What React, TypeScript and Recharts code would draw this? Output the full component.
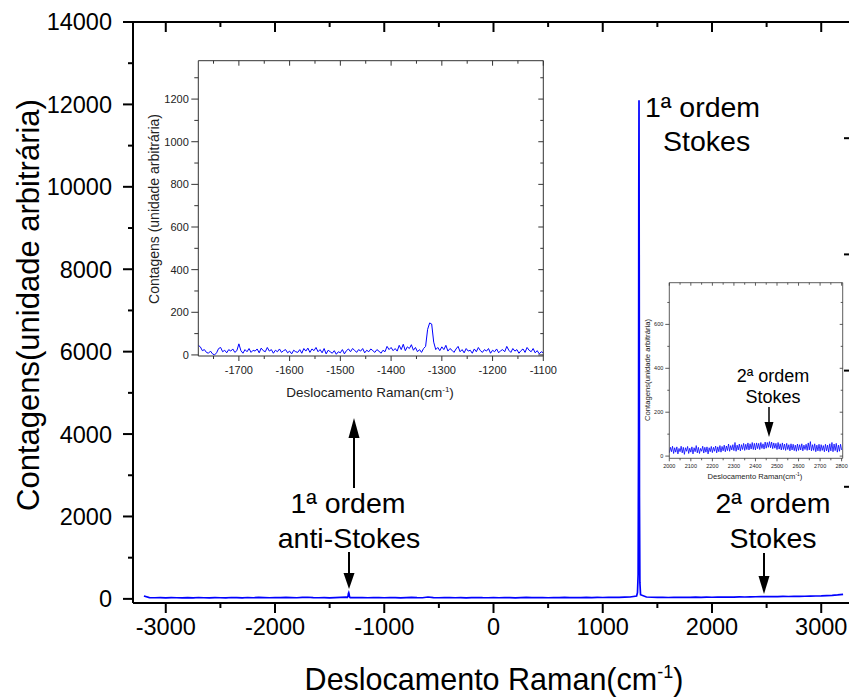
import React from 'react';
import { LineChart, Line, XAxis, YAxis } from 'recharts';

const FONT = '"Liberation Sans", Arial, Helvetica, sans-serif';
const BLUE = '#0000ff';

// ---------------- main spectrum ----------------
const mainGridStart = -3200;
const mainGridStep = 50;
// baseline counts every 50 cm-1 from -3200 to 3200
const mainBaseline = [
  70, 30, 28, 32, 25, 30, 27, 22, 30, 26, // -3200 .. -2750
  33, 28, 24, 31, 27, 25, 34, 29, 26, 33, // -2700 .. -2250
  28, 35, 30, 27, 32, 29, 36, 31, 28, 35, // -2200 .. -1750
  40, 30, 27, 32, 25, 30, 36, 42, 33, 29, // -1700 .. -1250
  31, 27, 34, 30, 28, 33, 29, 26, 31, 35, // -1200 .. -750
  30, 28, 45, 32, 27, 30, 33, 28, 31, 26, // -700 .. -250
  30, 34, 29, 27, 31, 28, 33, 30, 26, 32, // -200 .. 250
  35, 29, 31, 34, 28, 33, 30, 36, 31, 34, // 300 .. 750
  29, 35, 32, 38, 33, 36, 40, 37, 42, 45, // 800 .. 1250
  55, 60, 45, 40, 36, 38, 34, 37, 35, 39, // 1300 .. 1750
  36, 41, 38, 42, 40, 44, 41, 45, 43, 47, // 1800 .. 2250
  46, 50, 52, 55, 58, 54, 56, 60, 58, 62, // 2300 .. 2750
  60, 64, 66, 70, 72, 78, 85, 95, 110, // 2800 .. 3200
];
const antiStokesX = [-1340, -1332, -1328, -1325, -1322, -1318, -1312];
const antiStokesY = [35, 60, 130, 150, 120, 50, 30];
const stokesX = [1310, 1318, 1324, 1328, 1330, 1332, 1334, 1336, 1340, 1346];
const stokesY = [70, 150, 600, 4000, 9900, 12100, 8000, 2500, 400, 100];

const mainXTicks = [-3000, -2500, -2000, -1500, -1000, -500, 0, 500, 1000, 1500, 2000, 2500, 3000];
const mainYTicks = [0, 1000, 2000, 3000, 4000, 5000, 6000, 7000, 8000, 9000, 10000, 11000, 12000, 13000, 14000];
const mainRightTicks = [0, 1, 2, 3, 4, 5, 6, 7, 8, 9, 10];

// ---------------- left inset (anti-Stokes) ----------------
const leftInsetStart = -1780;
const leftInsetStep = 4;
const leftInsetY = [
  45, 38, 20, 25, 12, 8, 18, 5, 0, 10,
  30, 35, 15, 22, 10, 25, 18, 28, 12, 20,
  52, 20, 8, 25, 15, 30, 12, 22, 18, 28,
  10, 32, 20, 15, 35, 18, 25, 8, 22, 15,
  28, 12, 20, 25, 10, 18, 5, 22, 15, 12,
  25, 8, 30, 18, 32, 12, 28, 20, 35, 15,
  25, 10, 30, 5, 22, 15, 8, 20, 3, 15,
  10, 25, 5, 20, 28, 15, 30, 22, 12, 25,
  18, 30, 10, 22, 15, 28, 20, 12, 25, 18,
  8, 22, 15, 40, 25, 35, 20, 30, 18, 45,
  25, 50, 20, 38, 30, 48, 22, 35, 15, 25,
  12, 30, 40, 120, 150, 145, 60, 25, 35, 20,
  38, 25, 45, 18, 30, 22, 12, 28, 40, 15,
  25, 10, 30, 18, 22, 8, 28, 15, 35, 20,
  12, 25, 18, 30, 8, 22, 15, 28, 10, 20,
  25, 15, 40, 22, 12, 30, 18, 25, 8, 20,
  28, 12, 35, 22, 15, 30, 10, 20, 5, 15,
  10,
];
const leftInsetXTicks = [-1750, -1700, -1650, -1600, -1550, -1500, -1450, -1400, -1350, -1300, -1250, -1200, -1150, -1100];
const leftInsetYTicks = [0, 100, 200, 300, 400, 500, 600, 700, 800, 900, 1000, 1100, 1200, 1300];

// ---------------- right inset (2nd order Stokes) ----------------
const rightInsetStart = 2000;
const rightInsetStep = 5;
const rightInsetY = [
  15, 40, 20, 45, 12, 38, 18, 42, 10, 35,
  20, 45, 15, 40, 8, 38, 22, 44, 12, 36,
  18, 42, 10, 38, 20, 48, 15, 40, 12, 35,
  22, 45, 14, 40, 18, 42, 10, 38, 20, 44,
  16, 40, 22, 46, 15, 42, 20, 48, 18, 44,
  24, 50, 20, 46, 25, 55, 22, 48, 28, 52,
  25, 62, 22, 50, 28, 55, 24, 52, 30, 58,
  26, 54, 30, 60, 28, 56, 32, 62, 30, 58,
  28, 60, 34, 58, 30, 62, 35, 56, 32, 64,
  36, 62, 40, 66, 38, 64, 34, 60, 36, 58,
  30, 62, 32, 56, 28, 60, 30, 55, 26, 58,
  30, 52, 24, 56, 28, 54, 25, 50, 22, 55,
  26, 52, 28, 56, 24, 50, 30, 54, 26, 60,
  28, 66, 24, 52, 26, 56, 20, 50, 24, 54,
  22, 52, 26, 48, 20, 54, 24, 50, 18, 56,
  24, 62, 20, 55, 25, 58, 18, 50, 22, 54,
  28,
];
const rightInsetXTicks = [2000, 2050, 2100, 2150, 2200, 2250, 2300, 2350, 2400, 2450, 2500, 2550, 2600, 2650, 2700, 2750, 2800];
const rightInsetYTicks = [0, 100, 200, 300, 400, 500, 600, 700];

// ---------------- data tables ----------------
const gridTable = (start: number, step: number, ys: number[]) => ys.map((y, i) => ({ x: start + i * step, y }));
const mainData = [
  ...gridTable(mainGridStart, mainGridStep, mainBaseline).filter(
    (p) => !(p.x >= 1300 && p.x <= 1350) && !(p.x >= -1340 && p.x <= -1312)
  ),
  ...antiStokesX.map((x, i) => ({ x, y: antiStokesY[i] })),
  ...stokesX.map((x, i) => ({ x, y: stokesY[i] })),
].sort((a, b) => a.x - b.x);
const leftInsetData = gridTable(leftInsetStart, leftInsetStep, leftInsetY);
const rightInsetData = gridTable(rightInsetStart, rightInsetStep, rightInsetY);

// ---------------- tick renderer ----------------
type TickCfg = {
  dx: number;
  dy: number;
  major: number;
  minor: number;
  isMajor: (v: number) => boolean;
  label?: 'left' | 'bottom';
  fs?: number;
  gap?: number;
  sw: number;
  color: string;
  textColor?: string;
};
const makeTick = (c: TickCfg) => (props: any) => {
  const { x, y, payload } = props;
  const v = payload.value as number;
  const maj = c.isMajor(v);
  const len = maj ? c.major : c.minor;
  let label: React.ReactNode = null;
  const fs = c.fs || 10;
  const gap = c.gap || 0;
  if (maj && c.label === 'left') {
    label = (
      <text x={x - c.major - gap} y={y + fs * 0.36} textAnchor="end" fontSize={fs} fontFamily={FONT} fill={c.textColor || c.color}>
        {String(v)}
      </text>
    );
  } else if (maj && c.label === 'bottom') {
    label = (
      <text x={x} y={y + c.major + gap + fs * 0.72} textAnchor="middle" fontSize={fs} fontFamily={FONT} fill={c.textColor || c.color}>
        {String(v)}
      </text>
    );
  }
  return (
    <g>
      <line x1={x} y1={y} x2={x + c.dx * len} y2={y + c.dy * len} stroke={c.color} strokeWidth={c.sw} />
      {label}
    </g>
  );
};

const m1000 = (v: number) => v % 1000 === 0;
const m2000 = (v: number) => v % 2000 === 0;
const m2 = (v: number) => v % 2 === 0;
const m100 = (v: number) => v % 100 === 0;
const m200 = (v: number) => v % 200 === 0;

const mainBottomTick = makeTick({ dx: 0, dy: 1, major: 10, minor: 5, isMajor: m1000, label: 'bottom', fs: 23.5, gap: 5, sw: 2, color: '#000' });
const mainLeftTick = makeTick({ dx: -1, dy: 0, major: 10, minor: 5, isMajor: m2000, label: 'left', fs: 23.5, gap: 11, sw: 2, color: '#000' });
const mainTopTick = makeTick({ dx: 0, dy: 1, major: 10, minor: 5, isMajor: m1000, sw: 2, color: '#000' });
const mainRightTick = makeTick({ dx: -1, dy: 0, major: 10, minor: 5, isMajor: m2, sw: 2, color: '#000' });

const INSET_C = '#333';
const liBottomTick = makeTick({ dx: 0, dy: 1, major: 5, minor: 3, isMajor: m100, label: 'bottom', fs: 11, gap: 5, sw: 1, color: INSET_C, textColor: '#222' });
const liLeftTick = makeTick({ dx: -1, dy: 0, major: 7, minor: 4, isMajor: m200, label: 'left', fs: 11, gap: 2.5, sw: 1, color: INSET_C, textColor: '#222' });
const liTopTick = makeTick({ dx: 0, dy: 1, major: 5, minor: 3, isMajor: m100, sw: 1, color: INSET_C });
const liRightTick = makeTick({ dx: -1, dy: 0, major: 5, minor: 3, isMajor: m200, sw: 1, color: INSET_C });

const riBottomTick = makeTick({ dx: 0, dy: 1, major: 3, minor: 2, isMajor: m100, label: 'bottom', fs: 5.5, gap: 2.5, sw: 0.8, color: INSET_C, textColor: '#222' });
const riLeftTick = makeTick({ dx: -1, dy: 0, major: 4, minor: 2, isMajor: m200, label: 'left', fs: 5.5, gap: 2, sw: 0.8, color: INSET_C, textColor: '#222' });
const riTopTick = makeTick({ dx: 0, dy: 1, major: 3, minor: 2, isMajor: m100, sw: 0.8, color: INSET_C });
const riRightTick = makeTick({ dx: -1, dy: 0, major: 3, minor: 2, isMajor: m200, sw: 0.8, color: INSET_C });

const Arrow = ({ x, y1, y2, hw, hh, sw }: { x: number; y1: number; y2: number; hw: number; hh: number; sw: number }) => {
  const dir = y2 > y1 ? 1 : -1;
  const base = y2 - dir * hh;
  return (
    <g>
      <line x1={x} y1={y1} x2={x} y2={base} stroke="#000" strokeWidth={sw} />
      <polygon points={`${x - hw / 2},${base} ${x + hw / 2},${base} ${x},${y2}`} fill="#000" />
    </g>
  );
};

const axisCommon = { type: 'number' as const, allowDataOverflow: true, interval: 0 as const, tickSize: 0, tickMargin: 0, tickLine: false };

export default function App() {
  return (
    <div style={{ position: 'absolute', left: 0, top: 0, width: 849, height: 697, overflow: 'hidden', background: '#fff' }}>
      {/* main chart: plot box x 133..854, y 22..603 */}
      <div style={{ position: 'absolute', left: 0, top: 0 }}>
        <LineChart width={860} height={697} data={mainData} margin={{ top: 12, left: 73, right: 0, bottom: 54 }}>
          <XAxis xAxisId="b" {...axisCommon} dataKey="x" domain={[-3300, 3300]} ticks={mainXTicks} height={40} axisLine={{ stroke: '#000', strokeWidth: 2 }} tick={mainBottomTick} />
          <XAxis xAxisId="t" orientation="top" {...axisCommon} dataKey="x" domain={[-3300, 3300]} ticks={mainXTicks} height={10} axisLine={{ stroke: '#000', strokeWidth: 2 }} tick={mainTopTick} />
          <YAxis yAxisId="l" {...axisCommon} domain={[-100, 14000]} ticks={mainYTicks} width={60} axisLine={{ stroke: '#000', strokeWidth: 2 }} tick={mainLeftTick} />
          <YAxis yAxisId="r" orientation="right" {...axisCommon} domain={[0, 10]} ticks={mainRightTicks} width={6} axisLine={{ stroke: '#000', strokeWidth: 2 }} tick={mainRightTick} />
          <Line xAxisId="b" yAxisId="l" type="linear" dataKey="y" stroke={BLUE} strokeWidth={1.7} dot={false} isAnimationActive={false} />
        </LineChart>
      </div>

      {/* left inset: plot box x 198.3..543.3, y 60.7..356 */}
      <div style={{ position: 'absolute', left: 140, top: 40 }}>
        <LineChart width={420} height={370} data={leftInsetData} margin={{ top: 15.7, left: 28.3, right: 11.7, bottom: 24 }}>
          <XAxis xAxisId="b" {...axisCommon} dataKey="x" domain={[-1780, -1100]} ticks={leftInsetXTicks} height={30} axisLine={{ stroke: INSET_C, strokeWidth: 1 }} tick={liBottomTick} />
          <XAxis xAxisId="t" orientation="top" {...axisCommon} dataKey="x" domain={[-1780, -1100]} ticks={leftInsetXTicks} height={5} axisLine={{ stroke: INSET_C, strokeWidth: 1 }} tick={liTopTick} />
          <YAxis yAxisId="l" {...axisCommon} domain={[-5, 1380]} ticks={leftInsetYTicks} width={30} axisLine={{ stroke: INSET_C, strokeWidth: 1 }} tick={liLeftTick} />
          <YAxis yAxisId="r" orientation="right" {...axisCommon} domain={[-5, 1380]} ticks={leftInsetYTicks} width={5} axisLine={{ stroke: INSET_C, strokeWidth: 1 }} tick={liRightTick} />
          <Line xAxisId="b" yAxisId="l" type="linear" dataKey="y" stroke={BLUE} strokeWidth={1} dot={false} isAnimationActive={false} />
        </LineChart>
      </div>

      {/* right inset: plot box x 669.3..841.7, y 282.7..458.3 */}
      <div style={{ position: 'absolute', left: 641, top: 272 }}>
        <LineChart width={208} height={213} data={rightInsetData} margin={{ top: 8.7, left: 8.3, right: 5.3, bottom: 11.7 }}>
          <XAxis xAxisId="b" {...axisCommon} dataKey="x" domain={[2000, 2805]} ticks={rightInsetXTicks} height={15} axisLine={{ stroke: INSET_C, strokeWidth: 0.8 }} tick={riBottomTick} />
          <XAxis xAxisId="t" orientation="top" {...axisCommon} dataKey="x" domain={[2000, 2805]} ticks={rightInsetXTicks} height={2} axisLine={{ stroke: INSET_C, strokeWidth: 0.8 }} tick={riTopTick} />
          <YAxis yAxisId="l" {...axisCommon} domain={[-10, 790]} ticks={rightInsetYTicks} width={20} axisLine={{ stroke: INSET_C, strokeWidth: 0.8 }} tick={riLeftTick} />
          <YAxis yAxisId="r" orientation="right" {...axisCommon} domain={[-10, 790]} ticks={rightInsetYTicks} width={1} axisLine={{ stroke: INSET_C, strokeWidth: 0.8 }} tick={riRightTick} />
          <Line xAxisId="b" yAxisId="l" type="linear" dataKey="y" stroke={BLUE} strokeWidth={0.8} dot={false} isAnimationActive={false} />
        </LineChart>
      </div>

      {/* titles and annotations */}
      <svg width={849} height={697} style={{ position: 'absolute', left: 0, top: 0, pointerEvents: 'none' }} fontFamily={FONT}>
        <text x={494} y={690} textAnchor="middle" fontSize={30.5} fill="#000">
          <tspan>Deslocamento Raman(cm</tspan>
          <tspan dy={-12} fontSize={18}>-1</tspan>
          <tspan dy={12}>)</tspan>
        </text>
        <text x={28} y={305} textAnchor="middle" dominantBaseline="central" fontSize={31} fill="#000" transform="rotate(-90 28 305)">
          Contagens(unidade arbitrária)
        </text>

        <text x={370} y={397} textAnchor="middle" fontSize={13.5} fill="#222">
          <tspan>Deslocamento Raman(cm</tspan>
          <tspan dy={-5} fontSize={8}>-1</tspan>
          <tspan dy={5}>)</tspan>
        </text>
        <text x={154} y={209} textAnchor="middle" dominantBaseline="central" fontSize={14} fill="#222" transform="rotate(-90 154 209)">
          Contagens (unidade arbitrária)
        </text>

        <text x={755} y={479} textAnchor="middle" fontSize={7.6} fill="#222">
          <tspan>Deslocamento Raman(cm</tspan>
          <tspan dy={-3} fontSize={5}>-1</tspan>
          <tspan dy={3}>)</tspan>
        </text>
        <text x={647} y={370} textAnchor="middle" dominantBaseline="central" fontSize={7.7} fill="#222" transform="rotate(-90 647 370)">
          Contagens(unidade arbitrária)
        </text>

        <text x={645} y={117} fontSize={28.5} fill="#000">1ª ordem</text>
        <text x={663} y={151} fontSize={28.5} fill="#000">Stokes</text>

        <text x={348} y={513} textAnchor="middle" fontSize={28.5} fill="#000">1ª ordem</text>
        <text x={349} y={548} textAnchor="middle" fontSize={28.5} fill="#000">anti-Stokes</text>
        <Arrow x={354} y1={488} y2={418} hw={11} hh={20} sw={2} />
        <Arrow x={349} y1={552} y2={589} hw={11} hh={16} sw={2} />

        <text x={773} y={513} textAnchor="middle" fontSize={28.5} fill="#000">2ª ordem</text>
        <text x={773} y={548} textAnchor="middle" fontSize={28.5} fill="#000">Stokes</text>
        <Arrow x={764} y1={553} y2={594} hw={11} hh={18} sw={2} />

        <text x={773} y={382} textAnchor="middle" fontSize={18} fill="#000">2ª ordem</text>
        <text x={773} y={403} textAnchor="middle" fontSize={18} fill="#000">Stokes</text>
        <Arrow x={769} y1={407} y2={437} hw={9} hh={15} sw={1.5} />
      </svg>
    </div>
  );
}
